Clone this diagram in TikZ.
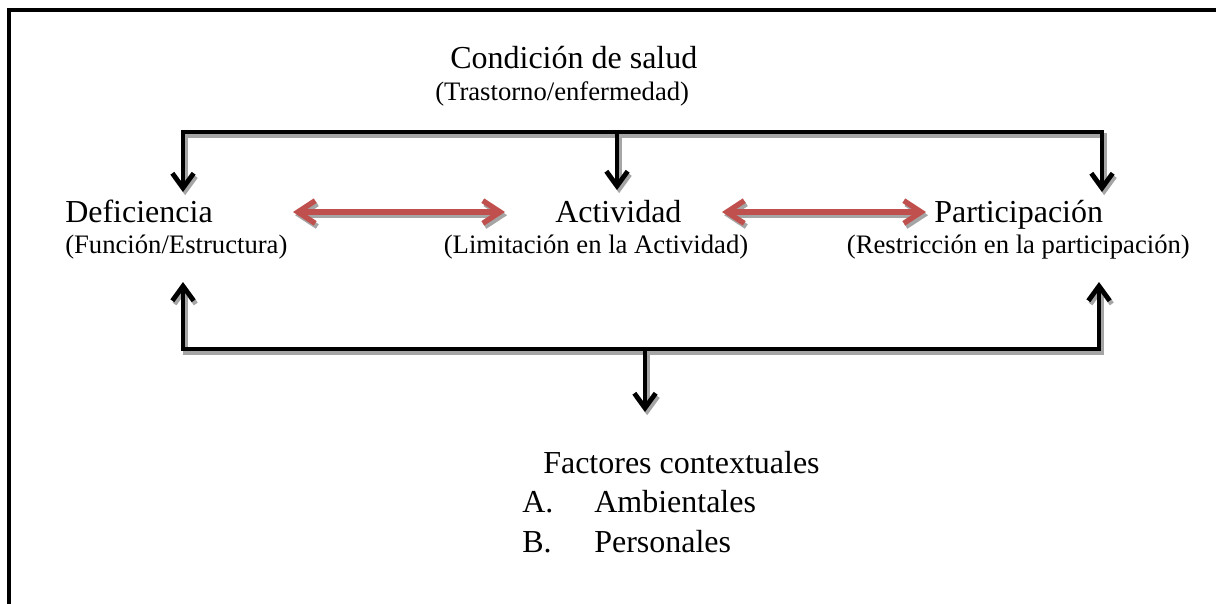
\documentclass[tikz,border=0pt]{standalone}
\usepackage{fontspec}
\setmainfont{Liberation Serif}
\usetikzlibrary{arrows.meta}
\definecolor{redarrow}{RGB}{192,80,77}
\definecolor{shadowgray}{RGB}{165,165,165}
\tikzset{
  maintext/.style={font=\fontsize{24}{28}\selectfont, inner sep=0pt},
  subtext/.style={font=\fontsize{20}{24}\selectfont, inner sep=0pt},
  conn/.style={line width=3.6pt, black, line join=miter},
  redconn/.style={line width=4pt, redarrow, line join=miter},
  shadowed/.style={shadowgray, transform canvas={shift={(1.6pt,-2.4pt)}}},
  barb/.tip={Straight Barb[length=11pt,width=16pt]},
  redbarb/.tip={Straight Barb[length=13pt,width=17pt]},
}
\begin{document}
\begin{tikzpicture}[x=0.75pt,y=-0.75pt]
\useasboundingbox (0,0) rectangle (1216,603);
% frame (top and left edges)
\coordinate (fb) at (9,640);
\coordinate (fc) at (9,10);
\coordinate (fr) at (1260,10);
\draw[line width=3.6pt, black] (fb) -- (fc) -- (fr);

% texts
\node[maintext, anchor=base west] (cond) at (450,68) {Condición de salud};
\node[subtext, anchor=base west] (condsub) at (435,100) {(Trastorno/enfermedad)};
\node[maintext, anchor=base west] (def) at (65,222) {Deficiencia};
\node[subtext, anchor=base west] (defsub) at (65,253) {(Función/Estructura)};
\node[maintext, anchor=base west] (act) at (555,222) {Actividad};
\node[subtext, anchor=base] (actsub) at (596,253) {(Limitación en la Actividad)};
\node[maintext, anchor=base west] (par) at (934,222) {Participación};
\node[subtext, anchor=base east] (parsub) at (1190,253) {(Restricción en la participación)};
\node[maintext, anchor=base west] (fac) at (543,473) {Factores contextuales};
\node[maintext, anchor=base west] (la) at (522,512) {A.};
\node[maintext, anchor=base west] (amb) at (594,512) {Ambientales};
\node[maintext, anchor=base west] (lb) at (522,552) {B.};
\node[maintext, anchor=base west] (per) at (594,552) {Personales};

% connector coordinates
\coordinate (tL) at (183,132);
\coordinate (tM) at (617,132);
\coordinate (tR) at (1102,132);
\coordinate (aL) at (183,192);
\coordinate (aM) at (617,190);
\coordinate (aR) at (1102,192);
\coordinate (bL) at (183,349);
\coordinate (bM) at (645,349);
\coordinate (bR) at (1099,349);
\coordinate (uL) at (183,282);
\coordinate (uR) at (1099,282);
\coordinate (dM) at (645,412);
\coordinate (r1a) at (293,212);
\coordinate (r1b) at (505,212);
\coordinate (r2a) at (722,212);
\coordinate (r2b) at (926,212);

% shadows
\begin{scope}[shadowed]
\draw[conn, shadowgray, barb-barb] (aL) -- (tL) -- (tR) -- (aR);
\draw[conn, shadowgray, -barb] (tM) -- (aM);
\draw[conn, shadowgray, barb-barb] (uL) -- (bL) -- (bR) -- (uR);
\draw[conn, shadowgray, -barb] (bM) -- (dM);
\draw[redconn, shadowgray, redbarb-redbarb] (r1a) -- (r1b);
\draw[redconn, shadowgray, redbarb-redbarb] (r2a) -- (r2b);
\end{scope}

% connectors
\draw[conn, barb-barb] (aL) -- (tL) -- (tR) -- (aR);
\draw[conn, -barb] (tM) -- (aM);
\draw[conn, barb-barb] (uL) -- (bL) -- (bR) -- (uR);
\draw[conn, -barb] (bM) -- (dM);
\draw[redconn, redbarb-redbarb] (r1a) -- (r1b);
\draw[redconn, redbarb-redbarb] (r2a) -- (r2b);
\end{tikzpicture}
\end{document}
